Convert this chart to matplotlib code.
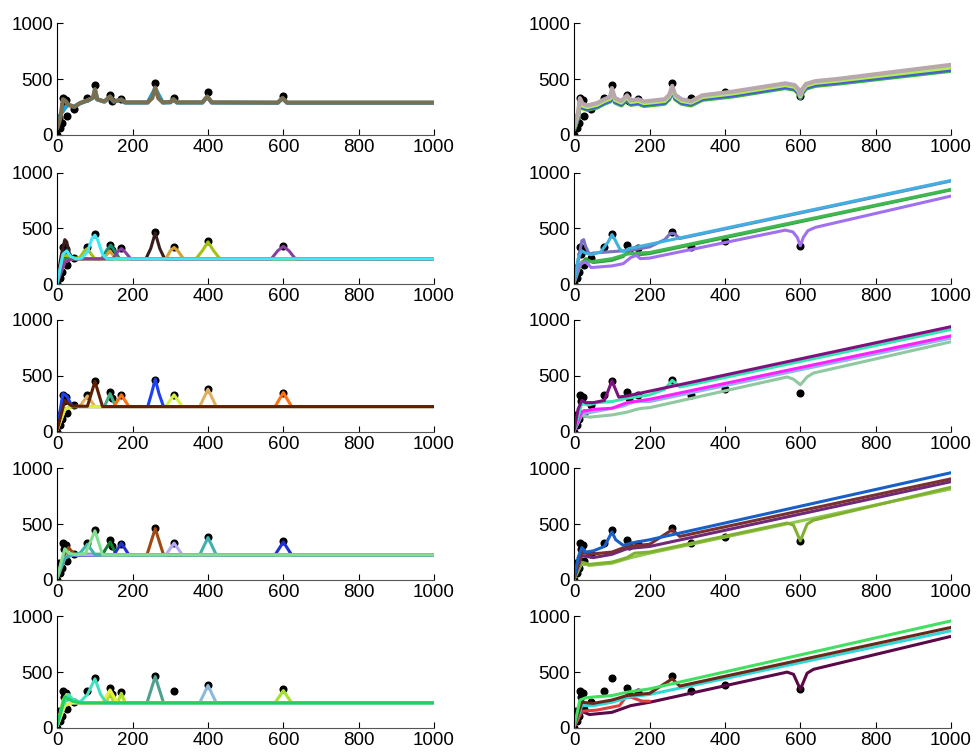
import matplotlib
matplotlib.use("Agg")
import matplotlib.pyplot as plt

plt.rcParams['font.family'] = ['Liberation Sans', 'DejaVu Sans']
plt.rcParams['font.size'] = 13.5

# observed points (same in every panel)
obs_x = [0, 5, 8, 12, 15, 18, 22, 25, 45, 80, 100, 140, 145, 170, 260, 310, 400, 600]
obs_y = [0, 150, 60, 110, 330, 275, 315, 170, 235, 330, 450, 355, 305, 325, 465, 330, 385, 345]

x_ticks = [0, 200, 400, 600, 800, 1000]
y_ticks = [0, 500, 1000]

# ---- left column, row 1 ----
r1l_curves = [
    ([0, 10, 20, 28, 45, 60, 80, 95, 100, 106, 125, 140, 150, 170, 180, 240, 260, 280, 300, 308, 318, 385, 398, 410, 585, 598, 610, 1000],
     [90, 190, 240, 270, 255, 283, 308, 333, 405, 318, 298, 340, 298, 315, 290, 290, 415, 290, 292, 318, 290, 290, 342, 290, 288, 328, 288, 288]),
    ([0, 8, 15, 22, 30, 45, 60, 80, 95, 100, 106, 125, 140, 150, 170, 180, 240, 252, 260, 268, 280, 300, 308, 318, 385, 398, 410, 585, 598, 610, 1000],
     [60, 150, 320, 305, 270, 250, 285, 310, 335, 410, 320, 300, 345, 300, 318, 292, 292, 330, 425, 330, 292, 295, 320, 292, 292, 345, 292, 290, 330, 290, 290]),
]
r1l_colors = ['#1aa0e0', '#7a7050']

# ---- right column, row 1 ----
r1r_x = [0, 10, 15, 22, 35, 60, 80, 95, 100, 108, 125, 140, 150, 170, 185, 240, 252, 260, 268, 285, 310, 340, 420, 560, 585, 595, 600, 605, 615, 640, 700, 1000]
r1r_green = [50, 150, 300, 240, 225, 245, 280, 300, 375, 290, 265, 315, 270, 280, 260, 280, 320, 395, 320, 280, 265, 315, 345, 420, 405, 370, 330, 370, 415, 440, 460, 575]
r1r_blue = [60, 160, 305, 248, 235, 255, 290, 310, 385, 300, 275, 325, 280, 290, 270, 290, 330, 405, 330, 290, 275, 325, 355, 430, 415, 380, 335, 380, 425, 450, 470, 585]
r1r_lime = [70, 180, 318, 262, 250, 270, 305, 325, 400, 315, 290, 340, 295, 305, 285, 305, 345, 420, 345, 305, 290, 340, 372, 447, 432, 395, 345, 395, 442, 467, 487, 605]
r1r_gray = [80, 200, 330, 280, 265, 285, 320, 340, 420, 330, 305, 355, 310, 320, 300, 320, 360, 440, 360, 320, 302, 355, 388, 462, 447, 410, 360, 410, 457, 482, 502, 628]
r1r_curves = [(r1r_x, r1r_green), (r1r_x, r1r_blue), (r1r_x, r1r_lime), (r1r_x, r1r_gray)]
r1r_colors = ['#38b838', '#4a5ad8', '#b0f050', '#b8a8ac']

# ---- left column, row 2 ----
r2l_curves = [
    ([0, 10, 15, 20, 25, 32, 40, 60, 235, 248, 260, 272, 285, 1000],
     [40, 250, 330, 400, 380, 280, 232, 230, 228, 320, 460, 320, 228, 228]),
    ([0, 15, 25, 40, 60, 72, 80, 90, 100, 368, 385, 400, 415, 432, 1000],
     [20, 250, 260, 230, 240, 300, 320, 270, 228, 228, 300, 380, 300, 228, 228]),
    ([0, 20, 40, 118, 132, 142, 152, 165, 1000],
     [30, 230, 228, 230, 310, 350, 300, 230, 228]),
    ([0, 20, 40, 120, 130, 140, 150, 160, 288, 300, 310, 320, 335, 1000],
     [20, 200, 228, 228, 260, 300, 250, 228, 228, 300, 330, 300, 228, 228]),
    ([0, 20, 40, 148, 160, 170, 180, 195, 568, 585, 600, 615, 632, 1000],
     [20, 200, 228, 228, 290, 320, 290, 228, 228, 300, 340, 300, 228, 228]),
    ([0, 5, 15, 25, 35, 50, 65, 80, 92, 100, 108, 120, 132, 1000],
     [10, 100, 270, 300, 250, 228, 235, 290, 410, 440, 390, 270, 228, 228]),
]
r2l_colors = ['#3b1c1c', '#a8c010', '#109070', '#d8a030', '#8840a0', '#40e8f8']

# ---- right column, row 2 ----
r2r_curves = [
    ([0, 15, 30, 50, 100, 130, 145, 160, 200, 1000],
     [20, 170, 230, 195, 215, 250, 300, 260, 275, 845]),
    ([0, 20, 40, 100, 140, 170, 200, 1000],
     [20, 200, 200, 230, 270, 280, 285, 850]),
    ([0, 15, 30, 45, 100, 130, 150, 165, 175, 200, 560, 580, 592, 600, 608, 620, 640, 1000],
     [20, 180, 200, 150, 165, 185, 240, 260, 230, 235, 485, 470, 420, 345, 420, 480, 510, 790]),
    ([0, 10, 20, 25, 30, 40, 50, 150, 200, 240, 255, 265, 280, 1000],
     [30, 200, 390, 400, 340, 270, 280, 305, 335, 400, 455, 455, 410, 925]),
    ([0, 10, 20, 30, 45, 70, 90, 100, 108, 120, 130, 145, 160, 200, 1000],
     [20, 230, 300, 280, 265, 290, 380, 445, 400, 320, 290, 320, 330, 358, 930]),
]
r2r_colors = ['#30a040', '#40b850', '#a070f0', '#7a70c0', '#40b0e0']

# ---- left column, row 3 ----
r3l_curves = [
    ([0, 8, 15, 25, 40, 240, 250, 260, 270, 282, 1000],
     [20, 200, 340, 320, 225, 225, 340, 470, 340, 225, 225]),
    ([0, 20, 40, 60, 80, 100, 378, 400, 422, 1000],
     [20, 200, 225, 230, 320, 225, 225, 380, 225, 225]),
    ([0, 20, 40, 125, 140, 155, 1000],
     [20, 200, 225, 225, 340, 225, 225]),
    ([0, 20, 40, 150, 170, 190, 578, 600, 622, 1000],
     [20, 200, 225, 225, 330, 225, 225, 350, 225, 225]),
    ([0, 20, 40, 288, 310, 332, 1000],
     [20, 200, 225, 225, 330, 225, 225]),
    ([0, 10, 20, 30, 40, 80, 100, 120, 1000],
     [20, 150, 280, 250, 228, 228, 450, 225, 225]),
]
r3l_colors = ['#2040f0', '#e0b060', '#40b080', '#ff7010', '#d8f040', '#602000']

# ---- right column, row 3 ----
r3r_curves = [
    ([0, 20, 40, 100, 140, 165, 180, 200, 565, 582, 600, 618, 635, 1000],
     [10, 150, 130, 150, 175, 200, 210, 215, 490, 470, 420, 490, 525, 805]),
    ([0, 20, 40, 130, 160, 200, 1000],
     [10, 160, 170, 230, 270, 270, 838]),
    ([0, 20, 50, 100, 140, 200, 1000],
     [10, 180, 200, 210, 260, 290, 858]),
    ([0, 20, 40, 60, 100, 140, 200, 240, 260, 280, 1000],
     [20, 250, 240, 260, 270, 300, 330, 380, 460, 400, 915]),
    ([0, 10, 20, 30, 50, 80, 100, 118, 140, 200, 1000],
     [20, 200, 280, 260, 260, 280, 455, 310, 320, 363, 940]),
]
r3r_colors = ['#90c8a0', '#90b0f0', '#ff20ff', '#30e8b0', '#801080']

# ---- left column, row 4 ----
r4l_curves = [
    ([0, 15, 30, 40, 50, 238, 260, 282, 1000],
     [20, 200, 290, 250, 225, 225, 460, 225, 225]),
    ([0, 20, 40, 120, 140, 157, 1000],
     [20, 190, 230, 230, 340, 225, 225]),
    ([0, 15, 30, 150, 170, 190, 578, 600, 622, 1000],
     [20, 180, 220, 225, 330, 225, 225, 340, 225, 225]),
    ([0, 20, 40, 288, 310, 332, 1000],
     [20, 200, 225, 225, 330, 225, 225]),
    ([0, 20, 40, 60, 80, 100, 378, 400, 422, 1000],
     [20, 200, 225, 240, 320, 225, 225, 380, 225, 225]),
    ([0, 10, 20, 30, 50, 75, 100, 120, 1000],
     [20, 160, 280, 240, 225, 240, 440, 225, 225]),
]
r4l_colors = ['#a04810', '#108030', '#2030d0', '#b8a8f8', '#40b0b0', '#80e090']

# ---- right column, row 4 ----
r4r_curves = [
    ([0, 20, 40, 100, 150, 200, 1000],
     [10, 150, 130, 150, 200, 240, 815]),
    ([0, 20, 40, 100, 140, 160, 200, 565, 582, 600, 618, 635, 1000],
     [10, 160, 140, 160, 200, 240, 250, 510, 490, 350, 500, 535, 830]),
    ([0, 20, 50, 100, 140, 200, 1000],
     [20, 220, 200, 230, 280, 300, 880]),
    ([0, 20, 40, 100, 140, 200, 260, 280, 1000],
     [20, 250, 230, 250, 300, 320, 450, 390, 905]),
    ([0, 10, 20, 30, 50, 80, 100, 110, 130, 150, 200, 1000],
     [20, 200, 290, 250, 260, 300, 430, 360, 310, 330, 360, 960]),
]
r4r_colors = ['#90c850', '#80b030', '#702878', '#7a3030', '#1860c8']

# ---- left column, row 5 ----
r5l_curves = [
    ([0, 15, 25, 40, 130, 140, 150, 160, 170, 180, 578, 600, 622, 1000],
     [20, 250, 300, 225, 225, 320, 225, 225, 310, 225, 225, 335, 225, 225]),
    ([0, 20, 35, 50, 238, 260, 282, 1000],
     [20, 240, 260, 225, 225, 460, 225, 225]),
    ([0, 20, 40, 378, 400, 422, 1000],
     [20, 200, 225, 225, 380, 225, 225]),
    ([0, 20, 40, 120, 140, 160, 1000],
     [20, 200, 225, 225, 340, 225, 225]),
    ([0, 15, 30, 40, 60, 80, 100, 115, 130, 1000],
     [20, 200, 300, 260, 230, 300, 440, 300, 225, 225]),
    ([0, 20, 40, 60, 1000],
     [30, 280, 240, 225, 225]),
]
r5l_colors = ['#a8e030', '#50a090', '#90b8d8', '#e8f040', '#40e0c0', '#20d060']

# ---- right column, row 5 ----
r5r_curves = [
    ([0, 20, 40, 100, 150, 200, 565, 582, 600, 618, 635, 1000],
     [10, 150, 120, 140, 200, 230, 500, 480, 345, 490, 525, 820]),
    ([0, 20, 60, 120, 140, 155, 180, 200],
     [10, 150, 160, 200, 290, 270, 240, 240]),
    ([0, 20, 50, 100, 150, 200, 1000],
     [20, 200, 200, 230, 280, 300, 870]),
    ([0, 20, 50, 100, 140, 200, 260, 280, 1000],
     [20, 230, 220, 250, 290, 310, 440, 375, 900]),
    ([0, 15, 30, 60, 100, 140, 200, 1000],
     [20, 250, 270, 280, 290, 320, 350, 958]),
]
r5r_colors = ['#5a0848', '#e04040', '#30d8d8', '#6a2818', '#40e060']

panels = [
    (r1l_curves, r1l_colors), (r1r_curves, r1r_colors),
    (r2l_curves, r2l_colors), (r2r_curves, r2r_colors),
    (r3l_curves, r3l_colors), (r3r_curves, r3r_colors),
    (r4l_curves, r4l_colors), (r4r_curves, r4r_colors),
    (r5l_curves, r5l_colors), (r5r_curves, r5r_colors),
]

fig = plt.figure(figsize=(9.76, 7.55), dpi=100)

lefts = [0.0587, 0.5884]
bottoms = [0.8212, 0.6234, 0.4282, 0.2318, 0.0358]
w, h = 0.386, 0.148

for i, (curves, colors) in enumerate(panels):
    row, col = divmod(i, 2)
    ax = fig.add_axes([lefts[col], bottoms[row], w, h])
    lw = 3.0 if i < 2 else 2.2
    # data points go under the fitted curves
    ax.plot(obs_x, obs_y, 'o', color='black', markersize=4.8, zorder=1)
    for (xs, ys), c in zip(curves, colors):
        ax.plot(xs, ys, color=c, linewidth=lw, solid_joinstyle='round',
                solid_capstyle='round', zorder=2)
    ax.set_xlim(0, 1000)
    ax.set_ylim(0, 1000)
    ax.set_xticks(x_ticks)
    ax.set_yticks(y_ticks)
    ax.spines['top'].set_visible(False)
    ax.spines['right'].set_visible(False)
    ax.spines['left'].set_linewidth(0.8)
    ax.spines['bottom'].set_linewidth(0.8)
    ax.spines['bottom'].set_color('#555555')
    ax.tick_params(direction='in', length=4, width=0.8, pad=3)

fig.savefig('out.png', dpi=100, facecolor='white')
